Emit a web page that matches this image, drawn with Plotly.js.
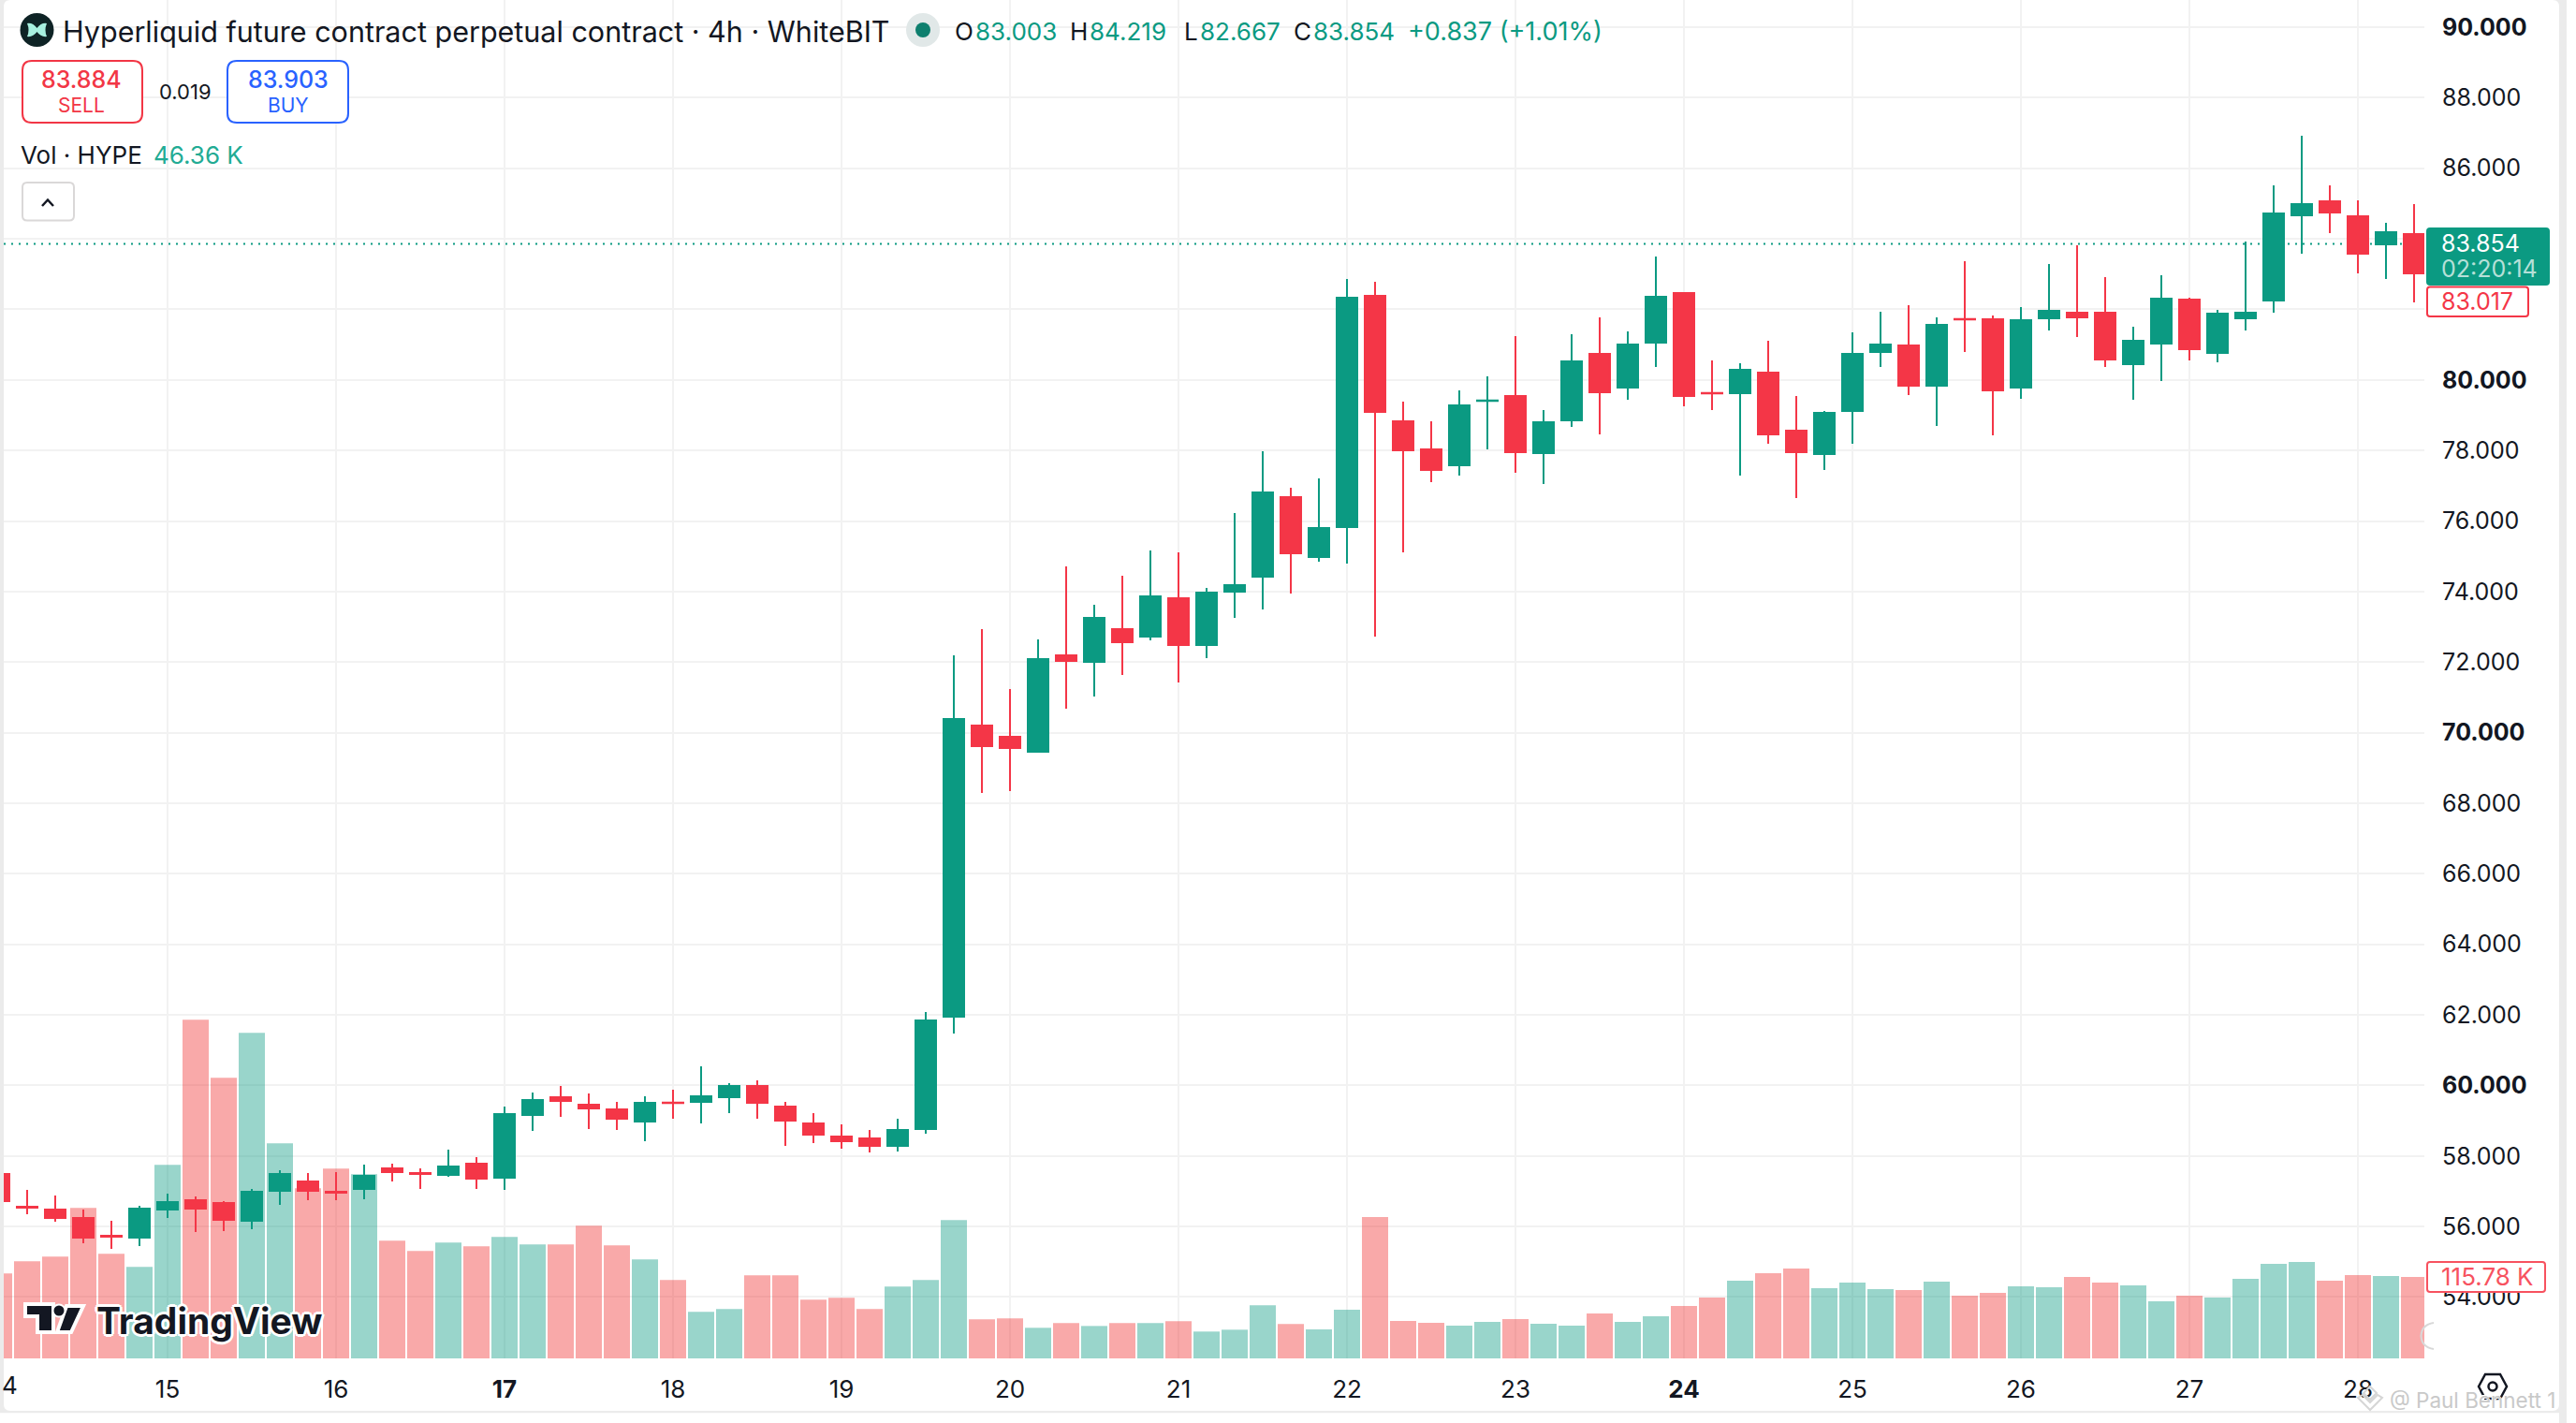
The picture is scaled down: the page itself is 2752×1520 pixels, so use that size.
<!DOCTYPE html>
<html><head><meta charset="utf-8">
<script src="https://cdn.plot.ly/plotly-3.0.1.min.js"></script>
<style>html,body{margin:0;padding:0;background:#fff}#c{width:2752px;height:1520px}</style>
</head><body><div id="c"></div>
<script>
// 4h bars; bar index 0 = the 00:00 bar of day 15
const opens=[57.489,56.561,56.481,56.242,55.738,55.685,56.481,56.746,56.667,56.162,57.012,57.277,56.985,57.065,57.649,57.516,57.463,57.781,57.383,59.161,59.665,59.453,59.321,58.976,59.515,59.533,59.665,59.984,59.400,58.922,58.551,58.498,58.286,58.763,61.948,70.202,69.884,69.459,72.192,72.007,72.936,72.724,73.812,72.485,73.997,74.422,76.678,74.979,75.828,82.383,78.827,78.031,77.580,79.402,79.544,77.925,78.854,80.739,79.783,81.057,82.463,79.633,79.624,80.208,78.562,77.899,79.120,80.792,80.977,79.836,81.729,81.720,79.783,81.747,81.906,81.906,80.447,81.030,82.278,80.765,81.747,82.251,84.666,85.064,84.640,83.844,84.135];
const closes=[56.720,56.534,56.242,55.685,55.711,56.507,56.693,56.507,56.189,56.985,57.489,57.012,56.959,57.436,57.542,57.489,57.702,57.357,59.188,59.586,59.559,59.347,59.055,59.506,59.497,59.692,59.984,59.506,59.002,58.604,58.418,58.286,58.737,61.842,70.388,69.618,69.565,72.086,72.033,73.254,72.564,73.865,72.485,73.971,74.183,76.810,75.085,75.802,82.330,79.093,78.005,77.447,79.278,79.420,77.952,78.801,80.526,79.650,81.004,82.357,79.544,79.615,80.287,78.456,77.952,79.067,80.739,81.004,79.836,81.561,81.712,79.704,81.694,81.959,81.774,80.579,81.110,82.304,80.871,81.880,81.906,84.719,84.985,84.746,83.578,84.189,83.021];
const highs=[57.489,57.038,56.879,56.481,56.162,56.587,56.932,56.852,56.720,57.065,57.596,57.516,57.542,57.755,57.781,57.649,58.179,57.967,59.400,59.798,59.984,59.772,59.533,59.692,59.878,60.541,60.064,60.143,59.533,59.214,58.896,58.737,59.055,62.080,72.192,72.936,71.237,72.644,74.714,73.626,74.449,75.165,75.112,74.104,76.227,77.978,76.943,77.209,82.861,82.782,79.385,78.827,79.703,80.101,81.242,79.146,81.295,81.773,81.375,83.498,82.490,80.553,80.473,81.110,79.544,79.120,81.349,81.933,82.118,81.773,83.366,81.827,82.065,83.286,83.817,82.915,81.508,82.968,82.331,81.986,83.923,85.515,86.922,85.515,85.091,84.454,84.985];
const lows=[56.720,56.348,56.136,55.525,55.366,55.446,56.242,55.844,55.871,55.924,56.614,56.746,56.746,56.773,57.277,57.065,57.410,57.065,57.038,58.710,59.108,58.763,58.737,58.418,59.055,58.922,59.214,59.055,58.286,58.365,58.206,58.100,58.126,58.631,61.470,68.291,68.344,69.432,70.680,71.025,71.635,72.617,71.423,72.113,73.254,73.493,73.944,74.847,74.793,72.724,75.112,77.102,77.288,78.031,77.368,77.049,78.668,78.456,79.438,80.367,79.252,79.146,77.288,78.191,76.652,77.448,78.191,80.367,79.571,78.695,80.792,78.430,79.465,81.402,81.216,80.367,79.438,79.969,80.553,80.500,81.402,81.906,83.578,84.162,83.021,82.862,82.198];
const volumesK=[120.7,138.0,144.6,213.9,148.6,130.0,275.1,481.4,398.9,462.8,305.7,241.8,269.8,261.8,167.3,152.6,164.6,159.3,172.6,161.9,161.9,188.6,160.6,140.7,111.4,66.1,70.1,118.0,118.0,83.4,86.1,70.1,102.1,111.4,196.6,55.5,56.8,43.5,50.1,46.1,50.1,50.1,52.8,38.2,40.8,75.4,48.8,41.3,69.2,201.0,53.2,50.6,46.6,51.9,55.9,49.3,46.6,63.9,51.9,59.9,74.5,86.5,110.5,121.1,127.8,99.8,107.8,98.5,97.2,109.2,89.2,93.2,102.5,101.2,115.8,107.8,103.8,81.2,89.2,86.5,113.1,134.4,137.1,110.5,118.5,117.1,115.78];
const firstBarIndex=-6;
const dayTickBars=[0,6,12,18,24,30,36,42,48,54,60,66,72,78];
const dayTickText=["15","16","<b>17</b>","18","19","20","21","22","23","<b>24</b>","25","26","27","28"];
const priceTicks=[54,56,58,60,62,64,66,68,70,72,74,76,78,80,82,84,86,88,90];
const priceTickText=["54.000","56.000","58.000","<b>60.000</b>","62.000","64.000","66.000","68.000","<b>70.000</b>","72.000","74.000","76.000","78.000","<b>80.000</b>","","","86.000","88.000","<b>90.000</b>"];
const lastPrice=83.854;

const GREEN='#0B9A82',RED='#F43647',INK='#131722',FONT='Inter, "Noto Sans", sans-serif';
const L=4,R=2590,B=1451,H=1520,W=2752;
const bars=opens.map((_,i)=>i+firstBarIndex);
const px=x=>((x-L)/(R-L)).toFixed(6), py=y=>(1-y/B).toFixed(6);
const pth=s=>s.replace(/(-?[\d.]+),(-?[\d.]+)/g,(m,a,b)=>px(+a)+','+py(+b));
const rrPath=(a,b,c,d,r)=>pth(`M ${a+r},${b} L ${c-r},${b} Q ${c},${b} ${c},${b+r} L ${c},${d-r} Q ${c},${d} ${c-r},${d} L ${a+r},${d} Q ${a},${d} ${a},${d-r} L ${a},${b+r} Q ${a},${b} ${a+r},${b} Z`);
const P=(path,o)=>Object.assign({type:'path',xref:'paper',yref:'paper',path,line:{width:0}},o||{});
const RECT=(a,b,c,d,fill,layer)=>({type:'rect',xref:'paper',yref:'paper',x0:+px(a),x1:+px(c),y0:+py(d),y1:+py(b),fillcolor:fill,line:{width:0},layer:layer||'above'});
const CIRC=(cx,cy,r,fill,extra)=>Object.assign({type:'circle',xref:'paper',yref:'paper',x0:+px(cx-r),x1:+px(cx+r),y0:+py(cy+r),y1:+py(cy-r),fillcolor:fill,line:{width:0}},extra||{});
const T=(text,x,y,size,color,anchor,extra)=>Object.assign({text,x:+px(x),y:+py(y),xref:'paper',yref:'paper',showarrow:false,xanchor:anchor||'left',yanchor:'middle',borderpad:0,font:Object.assign({family:FONT,size,color},(extra||{}).font||{})},extra&&extra.top||{});

const halo='2px 0 0 #fff,-2px 0 0 #fff,0 2px 0 #fff,0 -2px 0 #fff,2px 2px 0 #fff,-2px -2px 0 #fff,2px -2px 0 #fff,-2px 2px 0 #fff,3px 0 0 #fff,-3px 0 0 #fff,0 3px 0 #fff,0 -3px 0 #fff';

const shapes=[
 // window frame
 RECT(0,0,W,1509.5,'#EBEBEB','below'),
 P(rrPath(4,0,2734,1507,7),{fillcolor:'#fff',layer:'below'}),
 RECT(0,1509.5,2734,1520,'#fff','below'),
 RECT(2734,0,2742,1520,'#EBEBEB','below'),
 RECT(2742,0,W,1520,'#fff','below'),
 // live price line
 {type:'line',xref:'paper',yref:'y2',x0:0,x1:1,y0:lastPrice,y1:lastPrice,line:{color:GREEN,width:2,dash:'2px,6px'},layer:'below'},
 // symbol icon
 CIRC(39.5,32,18,'#0E2325'),
 P(pth('M 29,25 Q 35,24 39.5,30 Q 44,24 50,25 Q 47,32 50,39 Q 44,40 39.5,34 Q 35,40 29,39 Q 32,32 29,25 Z'),{fillcolor:'#A7F0DF'}),
 // market status dot
 CIRC(986,32,18,'#E1E8E8'),
 CIRC(986,32,8,'#0E7F6E'),
 // sell / buy
 P(rrPath(24,65,152,131,10),{fillcolor:'#fff',line:{color:'#F23645',width:2}}),
 P(rrPath(243,65,372,131,10),{fillcolor:'#fff',line:{color:'#2962FF',width:2}}),
 // collapse button
 P(rrPath(24,195,79,235.5,5),{fillcolor:'#fff',line:{color:'#DAD8D8',width:2}}),
 P(pth('M 45,220 L 51,213.5 L 57,220'),{line:{color:'#131722',width:2.5}}),
 // price labels on the axis
 P(rrPath(2592,243,2724,305,4),{fillcolor:GREEN}),
 P(rrPath(2593,306.5,2701,338,3),{fillcolor:'#fff',line:{color:RED,width:2}}),
 P(rrPath(2593,1348,2719,1380,3),{fillcolor:'#fff',line:{color:'#F7525F',width:2}}),
 // TradingView logo
 P(pth('M 27,1393 L 57,1393 L 57,1423 L 40,1423 L 40,1406 L 27,1406 Z'),{fillcolor:'#131722',line:{color:'#fff',width:4}}),
 P(pth('M 71,1395 L 89,1395 L 76,1423 L 61,1423 Z'),{fillcolor:'#131722',line:{color:'#fff',width:4}}),
 CIRC(63,1400,6.5,'#131722',{line:{color:'#fff',width:2}}),
 // settings hexagon
 P(pth('M 2648,1481 L 2655,1468 L 2671,1468 L 2678,1481 L 2671,1494 L 2655,1494 Z'),{line:{color:'#131722',width:2.5}}),
 CIRC(2663,1481,4.5,'#fff',{line:{color:'#131722',width:2.5}}),
 // partly hidden control
 P(pth('M 2600,1413 Q 2587,1415 2586.5,1427 Q 2587,1439 2600,1441'),{line:{color:'#D8D8D8',width:2}}),
 // watermark mark
 P(pth('M 2532,1481 L 2539,1488 L 2532,1495 L 2525,1488 Z M 2519,1493 L 2532,1506 L 2545,1493 L 2540,1490 L 2532,1498 L 2524,1490 Z'),{line:{color:'#D6D6D6',width:2}})
];

const annotations=[
 T('Hyperliquid future contract perpetual contract · 4h · WhiteBIT',66,33,30.5,INK),
 T('O',1019,33,26,INK),T('83.003',1041,33,26,GREEN),
 T('H',1142,33,26,INK),T('84.219',1163,33,26,GREEN),
 T('L',1264,33,26,INK),T('82.667',1281,33,26,GREEN),
 T('C',1381,33,26,INK),T('83.854',1402,33,26,GREEN),
 T('+0.837 (+1.01%)',1503,33,27,GREEN),
 T('83.884',87.5,85,25,'#F23645','center',{font:{weight:500}}),
 T('SELL',87.5,113,21,'#F23645','center'),
 T('0.019',198,98,22,INK,'center'),
 T('83.903',307.5,85,25,'#2962FF','center',{font:{weight:500}}),
 T('BUY',307.5,113,21,'#2962FF','center'),
 T('Vol · HYPE',21,165,26,INK),
 T('46.36 K',163,165,26,'#22AB94'),
 T('83.854',2607,260,25,'#fff'),
 T('02:20:14',2607,287,25,'#B5E0D8'),
 T('83.017',2607,322,25,RED),
 T('115.78 K',2607,1364,26,'#F7525F'),
 T('4',1,1480,26,INK),
 T('TradingView',102,1410,39,'#131722','left',{font:{weight:700,shadow:halo}}),
 T('@ Paul Bennett 1',2552,1495,22.5,'#C9C9C9','left',{font:{shadow:'1px 1px 0 #fff,-1px -1px 0 #fff'}})
];

const volume={type:'bar',x:bars,y:volumesK,yaxis:'y',xaxis:'x',hoverinfo:'skip',
 marker:{line:{width:0},color:closes.map((c,i)=>c>=opens[i]?'rgba(11,154,130,0.42)':'rgba(240,50,50,0.42)')}};
const candles={type:'candlestick',x:bars,open:opens,high:highs,low:lows,close:closes,xaxis:'x',yaxis:'y2',hoverinfo:'skip',whiskerwidth:0,
 increasing:{line:{color:GREEN,width:2},fillcolor:GREEN},
 decreasing:{line:{color:RED,width:2},fillcolor:RED}};

const layout={width:W,height:H,showlegend:false,paper_bgcolor:'#fff',plot_bgcolor:'rgba(0,0,0,0)',
 margin:{l:L,r:W-R,t:0,b:H-B,pad:0},bargap:0.0667,boxgap:0.267,boxgroupgap:0,boxmode:'overlay',
 font:{family:FONT,color:INK,size:26},hovermode:false,dragmode:false,
 xaxis:{type:'linear',range:[-5.8333,80.3667],tickmode:'array',tickvals:dayTickBars,ticktext:dayTickText,showgrid:true,gridcolor:'#F2F2F2',gridwidth:2,zeroline:false,showline:false,ticks:'',ticklabelstandoff:15,tickfont:{family:FONT,size:26,color:INK},rangeslider:{visible:false},fixedrange:true},
 yaxis:{range:[0,1931],visible:false,fixedrange:true},
 yaxis2:{overlaying:'y',side:'right',anchor:'x',range:[52.261,90.77],tickmode:'array',tickvals:priceTicks,ticktext:priceTickText,showgrid:true,gridcolor:'#F2F2F2',gridwidth:2,zeroline:false,showline:false,ticks:'',ticklabelstandoff:18,tickfont:{family:FONT,size:25,color:INK},fixedrange:true},
 shapes,annotations};
Plotly.newPlot('c',[volume,candles],layout,{staticPlot:true,displayModeBar:false,responsive:false});
</script></body></html>
